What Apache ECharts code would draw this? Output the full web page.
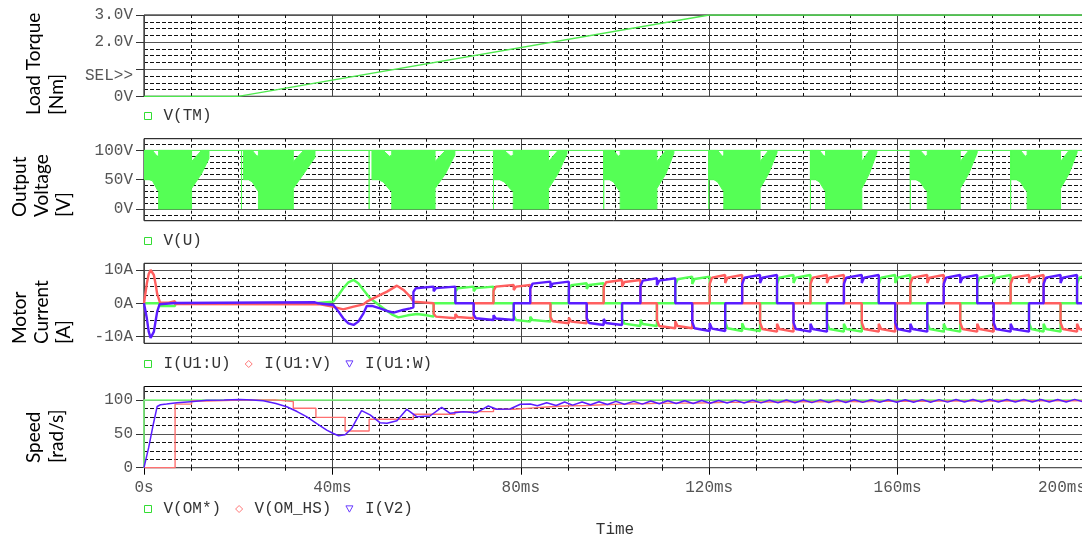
<!DOCTYPE html>
<html>
<head>
<meta charset="utf-8">
<script src="https://cdn.jsdelivr.net/npm/echarts@6/dist/echarts.min.js"></script>
<style>
  html, body { margin: 0; padding: 0; background: #fff; }
  #chart { width: 1082px; height: 539px; }
</style>
</head>
<body>
<div id="chart"></div>
<script>
// ---- time axis (ms) ----
const TIME_TICKS = [0, 40, 80, 120, 160, 200];
const TIME_LABELS = ['0s', '40ms', '80ms', '120ms', '160ms', '200ms'];
const TIME_MINOR = [10, 20, 30, 50, 60, 70, 90, 100, 110, 130, 140, 150, 170, 180, 190];

// ---- y tick values / labels per panel ----
const TORQUE_TICKS = [0, 1, 2, 3];
const TORQUE_LABEL_VALUES = [0, 2, 3];
const TORQUE_LABELS = ['0V', '2.0V', '3.0V'];
const TORQUE_MINOR = [0.25, 0.5, 0.75, 1.25, 1.5, 1.75, 2.25, 2.5, 2.75];

const VOLT_TICKS = [0, 50, 100];
const VOLT_LABELS = ['0V', '50V', '100V'];
const VOLT_MINOR = [-10, 10, 20, 30, 40, 60, 70, 80, 90, 110];

const CURR_TICKS = [-10, 0, 10];
const CURR_LABELS = ['-10A', '0A', '10A'];
const CURR_MINOR = [-7.5, -5, -2.5, 2.5, 5, 7.5];

const SPEED_TICKS = [0, 50, 100];
const SPEED_LABELS = ['0', '50', '100'];
const SPEED_MINOR = [12.5, 25, 37.5, 62.5, 75, 87.5, 112.5];

// ---- V(TM): load torque ramp ----
const V_TM = [[0, 0], [20, 0], [120, 3], [200, 3]];

// ---- V(U): level line with commutation spikes ----
const V_U_LINE = [
  [0, 100], [20.7, 100], [20.7, 0], [20.7, 100], [47.8, 100], [47.8, 0], [47.8, 100],
  [74.2, 100], [74.2, 0], [74.2, 100], [97.6, 100], [97.6, 0], [97.6, 100],
  [119.9, 100], [119.9, 0], [119.9, 100], [141.5, 100], [141.5, 0], [141.5, 100],
  [162.7, 100], [162.7, 0], [162.7, 100], [184.0, 100], [184.0, 0], [184.0, 100], [200, 100]
];

// ---- V(U): PWM switching bands, each row [t, low, high] ----
const V_U_BAND_1 = [[0,50,100],[1.1,50,100],[1.8,48,100],[2.8,33,90],[3.1,30,92],[3.1,0,100],[10.1,0,100],[10.1,35,81],[12.2,60,100],[13.8,86,100]];
const V_U_BAND_2 = [[21.1,50,100],[22.2,50,100],[23.0,46,100],[24.0,33,90],[24.3,30,92],[24.3,0,100],[31.7,0,100],[31.7,35,81],[33.9,60,100],[36.3,88,100]];
const V_U_BAND_3 = [[48.4,50,100],[49.8,50,100],[50.8,46,100],[52.1,33,90],[52.6,30,92],[52.6,0,100],[61.8,0,100],[61.8,35,81],[64.0,60,100],[66.0,92,100]];
const V_U_BAND_4 = [[74.2,50,100],[75.5,50,100],[76.5,46,100],[77.9,33,90],[78.4,30,92],[78.4,0,100],[85.9,0,100],[85.9,35,81],[87.9,60,100],[89.8,94,100]];
const V_U_BAND_5 = [[97.6,50,100],[98.8,50,100],[99.7,46,100],[100.7,33,90],[101.1,30,92],[101.1,0,100],[108.9,0,100],[108.9,35,81],[110.8,60,100],[112.5,95,100]];
const V_U_BAND_6 = [[119.9,50,100],[121.0,50,100],[121.8,46,100],[122.8,33,90],[123.1,30,92],[123.1,0,100],[130.8,0,100],[130.8,35,81],[132.6,60,100],[134.4,96,100]];
const V_U_BAND_7 = [[141.5,50,100],[142.6,50,100],[143.4,46,100],[144.4,33,90],[144.7,30,92],[144.7,0,100],[152.4,0,100],[152.4,35,81],[154.0,60,100],[155.6,96,100]];
const V_U_BAND_8 = [[162.7,50,100],[163.9,50,100],[164.8,46,100],[165.9,33,90],[166.3,30,92],[166.3,0,100],[173.3,0,100],[173.3,35,81],[175.1,60,100],[176.9,96,100]];
const V_U_BAND_9 = [[184.0,50,100],[185.2,50,100],[186.1,46,100],[187.1,33,90],[187.5,30,92],[187.5,0,100],[194.6,0,100],[194.6,35,81],[196.4,60,100],[198.1,96,100]];
const V_U_BANDS = [V_U_BAND_1, V_U_BAND_2, V_U_BAND_3, V_U_BAND_4, V_U_BAND_5, V_U_BAND_6, V_U_BAND_7, V_U_BAND_8, V_U_BAND_9];

// ---- phase currents [t ms, A] ----
const I_U = [
  [0,0],[3.3,0],[3.3,-0.8],[6.6,-0.8],[6.6,0],[36.7,0.1],[40.2,0.5],[41.3,2.5],[42.3,4.5],[43.4,6.3],[44.5,7.0],[45.5,6.0],[46.6,4.0],[48.0,1.5],[49.4,0],[50.8,-1.5],[52.6,-3.3],[54,-4.2],[56,-3.6],[58,-3.2],[60,-3.6],[61.5,-4.0],[61.5,0],
  [66.1,0],[66.1,3.4],[66.6,4.5],[70.0,5.0],[70.0,3.6],[70.5,4.55],[74.2,5.0],[74.2,0],
  [78.5,0],[78.5,-3.7],[79.0,-5.0],[82.0,-5.5],[82.0,-4.0],[82.5,-5.0],[86.3,-5.5],[86.3,0],
  [90.2,0],[90.2,4.1],[90.7,5.4],[94.0,6.0],[94.0,4.3],[94.5,5.5],[97.6,6.0],[97.6,0],
  [101.5,0],[101.5,-4.6],[102.0,-6.1],[105.4,-6.8],[105.4,-4.9],[105.9,-6.2],[108.9,-6.8],[108.9,0],
  [112.8,0],[112.8,5.4],[113.3,7.2],[116.4,8.0],[116.4,5.8],[116.9,7.3],[120.1,8.0],[120.1,0],
  [123.4,0],[123.4,-5.6],[123.9,-7.5],[127.0,-8.3],[127.0,-6.0],[127.5,-7.6],[130.8,-8.3],[130.8,0],
  [134.4,0],[134.4,5.8],[134.9,7.7],[137.9,8.5],[137.9,6.1],[138.4,7.7],[141.5,8.5],[141.5,0],
  [145.0,0],[145.0,-5.8],[145.5,-7.7],[148.6,-8.5],[148.6,-6.1],[149.1,-7.7],[152.4,-8.5],[152.4,0],
  [156.0,0],[156.0,5.8],[156.5,7.7],[159.5,8.5],[159.5,6.1],[160.0,7.7],[162.7,8.5],[162.7,0],
  [166.3,0],[166.3,-5.8],[166.8,-7.7],[169.8,-8.5],[169.8,-6.1],[170.3,-7.7],[173.3,-8.5],[173.3,0],
  [176.9,0],[176.9,5.8],[177.4,7.7],[180.4,8.5],[180.4,6.1],[180.9,7.7],[184.0,8.5],[184.0,0],
  [187.9,0],[187.9,-5.8],[188.4,-7.7],[191.0,-8.5],[191.0,-6.1],[191.5,-7.7],[194.6,-8.5],[194.6,0],
  [198.1,0],[198.1,5.8],[198.6,7.7],[200,8.3]
];
const I_V = [
  [0,0],[0.6,5.9],[1.0,8.8],[1.4,10.0],[1.8,9.8],[2.1,8.5],[2.5,5.5],[2.8,2.8],[3.4,0.2],[5.2,0.2],[5.2,0.6],[6.6,0.6],[6.6,-0.2],[37.4,-0.3],[40.0,-1.0],[42.3,-1.8],[44.5,-1.0],[46.6,-0.3],[47.3,0.5],[49.4,2.0],[51.6,3.5],[53.7,5.3],[55.1,4.0],[56.5,2.0],[57.2,0.5],[57.2,0],
  [61.5,0],[61.5,-3.1],[62.0,-4.0],[66.1,-4.5],[66.1,-3.2],[66.6,-4.1],[70.0,-4.5],[70.0,0],
  [74.2,0],[74.2,3.7],[74.7,5.0],[78.5,5.5],[78.5,4.0],[79.0,5.0],[82.0,5.5],[82.0,0],
  [86.3,0],[86.3,-4.1],[86.8,-5.4],[90.2,-6.0],[90.2,-4.3],[90.7,-5.5],[94.0,-6.0],[94.0,0],
  [97.6,0],[97.6,4.8],[98.1,6.3],[101.5,7.0],[101.5,5.0],[102.0,6.4],[105.4,7.0],[105.4,0],
  [108.9,0],[108.9,-5.1],[109.4,-6.8],[112.8,-7.5],[112.8,-5.4],[113.3,-6.8],[116.4,-7.5],[116.4,0],
  [120.1,0],[120.1,5.8],[120.6,7.7],[123.4,8.5],[123.4,6.1],[123.9,7.7],[127.0,8.5],[127.0,0],
  [130.8,0],[130.8,-5.8],[131.3,-7.7],[134.4,-8.5],[134.4,-6.1],[134.9,-7.7],[137.9,-8.5],[137.9,0],
  [141.5,0],[141.5,5.8],[142.0,7.7],[145.0,8.5],[145.0,6.1],[145.5,7.7],[148.6,8.5],[148.6,0],
  [152.4,0],[152.4,-5.8],[152.9,-7.7],[156.0,-8.5],[156.0,-6.1],[156.5,-7.7],[159.5,-8.5],[159.5,0],
  [162.7,0],[162.7,5.8],[163.2,7.7],[166.3,8.5],[166.3,6.1],[166.8,7.7],[169.8,8.5],[169.8,0],
  [173.3,0],[173.3,-5.8],[173.8,-7.7],[176.9,-8.5],[176.9,-6.1],[177.4,-7.7],[180.4,-8.5],[180.4,0],
  [184.0,0],[184.0,5.8],[184.5,7.7],[187.9,8.5],[187.9,6.1],[188.4,7.7],[191.0,8.5],[191.0,0],
  [194.6,0],[194.6,-5.8],[195.1,-7.7],[198.1,-8.5],[198.1,-6.1],[198.6,-7.7],[200,-8.3]
];
const I_W = [
  [0,0],[0.6,-4.5],[1.0,-8.5],[1.4,-10.4],[1.8,-9.8],[2.1,-8.5],[2.5,-5.0],[2.8,-2.5],[3.3,-0.3],[3.6,0],[6.6,0.1],[36.3,0.3],[37.0,0],[40.2,-0.5],[41.3,-2.5],[42.3,-4.5],[43.4,-6.0],[44.5,-6.5],[45.5,-5.5],[46.6,-3.0],[47.3,-0.8],[48.4,-0.8],[50.1,-1.5],[51.6,-2.3],[53.0,-2.8],[55.0,-2.0],[56.5,-1.5],[57.2,-1.2],[57.2,0],
  [57.2,3.4],[57.7,4.5],[61.5,5.0],[61.5,3.6],[62.0,4.55],[66.1,5.0],[66.1,0],
  [70.0,0],[70.0,-3.4],[70.5,-4.5],[74.2,-5.0],[74.2,-3.6],[74.7,-4.55],[78.5,-5.0],[78.5,0],
  [82.0,0],[82.0,4.4],[82.5,5.9],[86.3,6.5],[86.3,4.7],[86.8,5.9],[90.2,6.5],[90.2,0],
  [94.0,0],[94.0,-4.4],[94.5,-5.9],[97.6,-6.5],[97.6,-4.7],[98.1,-5.9],[101.5,-6.5],[101.5,0],
  [105.4,0],[105.4,5.1],[105.9,6.8],[108.9,7.5],[108.9,5.4],[109.4,6.8],[112.8,7.5],[112.8,0],
  [116.4,0],[116.4,-5.6],[116.9,-7.5],[120.1,-8.3],[120.1,-6.0],[120.6,-7.6],[123.4,-8.3],[123.4,0],
  [127.0,0],[127.0,5.8],[127.5,7.7],[130.8,8.5],[130.8,6.1],[131.3,7.7],[134.4,8.5],[134.4,0],
  [137.9,0],[137.9,-5.8],[138.4,-7.7],[141.5,-8.5],[141.5,-6.1],[142.0,-7.7],[145.0,-8.5],[145.0,0],
  [148.6,0],[148.6,5.8],[149.1,7.7],[152.4,8.5],[152.4,6.1],[152.9,7.7],[156.0,8.5],[156.0,0],
  [159.5,0],[159.5,-5.8],[160.0,-7.7],[162.7,-8.5],[162.7,-6.1],[163.2,-7.7],[166.3,-8.5],[166.3,0],
  [169.8,0],[169.8,5.8],[170.3,7.7],[173.3,8.5],[173.3,6.1],[173.8,7.7],[176.9,8.5],[176.9,0],
  [180.4,0],[180.4,-5.8],[180.9,-7.7],[184.0,-8.5],[184.0,-6.1],[184.5,-7.7],[187.9,-8.5],[187.9,0],
  [191.0,0],[191.0,5.8],[191.5,7.7],[194.6,8.5],[194.6,6.1],[195.1,7.7],[198.1,8.5],[198.1,0],
  [200,0]
];

// ---- speed [t ms, rad/s] ----
const V_OM_REF = [[0, 0], [0, 100], [200, 100]];
// sampled (held) speed estimate, value holds from t until the next entry
const V_OM_HS = [
  [0,0],[6.6,94],[10.1,98.6],[13.3,99.8],[20.5,100.2],[27.8,97.7],[31.7,87.8],[36.5,74.4],[42.7,54.2],[47.8,71.5],
  [57.2,78.9],[66,82.8],[74.2,86.3],[78.5,88],[82,90],[86.3,91.5],[90.2,92],[94,93],[97.6,94],[101.5,94.5],
  [105.4,95],[108.9,95.5],[112.8,95.5],[116.4,96],[120.1,96.5],[123.4,96.5],[127,97],[130.8,97],[134.4,97.5],
  [137.9,97.5],[141.5,97.5],[145,98],[148.6,97.5],[152.4,98],[156,98],[159.5,98.5],[162.7,98],[166.3,98.5],
  [169.8,98.5],[173.3,98.5],[176.9,99],[180.4,98.5],[184,99],[187.9,99],[191,99],[194.6,99],[198.1,99.5],[200,99.5]
];
const I_V2 = [
  [0,0],[1.0,30],[2.0,65],[2.8,90.5],[3.5,93],[4.8,94],[7,96],[9.9,97.6],[13.3,99.5],[17,100],[20.4,100.8],[23,100.2],
  [25.3,99],[28,95],[30.3,90],[32.5,83],[34.5,75.4],[36.7,65],[38.8,55.6],[40.2,50.5],[41.3,47.2],[42.7,48.7],[44.1,58],
  [45.2,72],[46.2,84.3],[48,78],[50.1,66.5],[51.6,65.6],[53.7,69.4],[55.8,86.3],[57.9,75.4],[60.7,76.4],[63.2,89.3],
  [65,80.4],[67.8,82.8],[70.6,81.3],[73.1,91.2],[74.9,86.3],[77.7,86.8],[79.9,93.8],[82,94],[83.5,91.5],[85.5,96],
  [87.5,92],[89.3,97],[91,92.5],[93,97],[94.8,93],[96.6,97.5],[98.4,93.5],[100.2,98],[102,93.8],[104,98],[105.8,94],
  [107.6,98.5],[109.4,94.5],[111.2,99],[113,94.8],[114.8,99],[116.6,95],[118.4,99.2],[120.2,95.2],[122,99.4],[123.8,95.5],
  [125.6,99.5],[127.4,95.5],[129.2,99.6],[131,95.8],[132.8,99.8],[134.6,96],[136.4,100],[138.2,96],[140,100],[141.8,96.2],
  [143.6,100.2],[145.4,96.3],[147.2,100.2],[149,96.4],[150.8,100.4],[152.6,96.5],[154.4,100.4],[156.2,96.6],[158,100.5],
  [159.8,96.7],[161.6,100.5],[163.4,96.8],[165.2,100.6],[167,96.8],[168.8,100.6],[170.6,96.9],[172.4,100.7],[174.2,97],
  [176,100.7],[177.8,97],[179.6,100.8],[181.4,97],[183.2,100.8],[185,97.1],[186.8,100.8],[188.6,97.1],[190.4,100.9],
  [192.2,97.2],[194,100.9],[195.8,97.2],[197.6,101],[199.4,97.2],[200,98]
];

// ---- styling ----
const MONO = '"Liberation Mono", "Courier New", monospace';
const TITLE_FONT = 'Lato, "Open Sans", sans-serif';
const GREEN = '#55ff55';
const RED = '#ff5f5f';
const BLUE = '#5a1cff';

const GRID_LEFT = 144;
const GRID_WIDTH = 942;   // time axis runs a little past the right edge of the page

const PANELS = [
  { top: 15,    height: 81.3, min: 0,   max: 3,   ticks: TORQUE_TICKS, labelValues: TORQUE_LABEL_VALUES, labels: TORQUE_LABELS, minor: TORQUE_MINOR },
  { top: 138.7, height: 82,   min: -20, max: 120, ticks: VOLT_TICKS,   labelValues: VOLT_TICKS,   labels: VOLT_LABELS,   minor: VOLT_MINOR },
  { top: 263.3, height: 80,   min: -12, max: 12,  ticks: CURR_TICKS,   labelValues: CURR_TICKS,   labels: CURR_LABELS,   minor: CURR_MINOR },
  { top: 386.5, height: 81.2, min: 0,   max: 120, ticks: SPEED_TICKS,  labelValues: SPEED_TICKS,  labels: SPEED_LABELS,  minor: SPEED_MINOR }
];

function labelFor(values, labels) {
  return function (v) {
    for (let k = 0; k < values.length; k++) {
      if (Math.abs(values[k] - v) < 1e-9) return labels[k];
    }
    return '';
  };
}

const grids = [], xAxes = [], yAxes = [];
PANELS.forEach(function (p, i) {
  const isBottom = i === PANELS.length - 1;
  grids.push({
    left: GRID_LEFT, width: GRID_WIDTH, top: p.top, height: p.height,
    show: true, borderColor: '#000', borderWidth: 1, backgroundColor: 'transparent',
    containLabel: false, outerBoundsMode: 'none'
  });
  // minor time grid (dashed verticals)
  xAxes.push({
    type: 'value', gridIndex: i, position: 'bottom', min: 0, max: 200,
    axisLine: { show: false, onZero: false }, axisLabel: { show: false },
    axisTick: { show: isBottom, customValues: TIME_MINOR, length: 3, lineStyle: { color: '#000' } },
    splitLine: { show: true, lineStyle: { color: '#111', width: 1, type: [3, 3] } }
  });
  // major time grid + labels
  xAxes.push({
    type: 'value', gridIndex: i, position: 'bottom', min: 0, max: 200,
    axisLine: { show: false, onZero: false },
    axisTick: { show: isBottom, customValues: TIME_TICKS, length: 7, lineStyle: { color: '#000' } },
    axisLabel: {
      show: isBottom, customValues: TIME_TICKS, formatter: labelFor(TIME_TICKS, TIME_LABELS),
      margin: 12, color: '#555', fontFamily: MONO, fontSize: 16, alignMaxLabel: 'right'
    },
    splitLine: { show: true, lineStyle: { color: '#444', width: 1 } }
  });
  // minor value grid (dashed horizontals)
  yAxes.push({
    type: 'value', gridIndex: i, position: 'left', min: p.min, max: p.max,
    axisLine: { show: false, onZero: false }, axisLabel: { show: false },
    axisTick: { show: false, customValues: p.minor },
    splitLine: { show: true, lineStyle: { color: '#111', width: 1, type: [4, 2] } }
  });
  // major value grid + labels
  yAxes.push({
    type: 'value', gridIndex: i, position: 'left', min: p.min, max: p.max,
    axisLine: { show: false, onZero: false },
    axisTick: { show: true, customValues: p.ticks, length: 8, lineStyle: { color: '#333' } },
    axisLabel: {
      show: true, customValues: p.labelValues, formatter: labelFor(p.labelValues, p.labels),
      margin: 11, color: '#555', fontFamily: MONO, fontSize: 16
    },
    splitLine: { show: true, lineStyle: { color: '#555', width: 1 } }
  });
});

function lineSeries(name, panel, data, color, width, extra) {
  return Object.assign({
    type: 'line', name: name,
    xAxisIndex: panel * 2 + 1, yAxisIndex: panel * 2 + 1,
    data: data, showSymbol: false, symbol: 'none', clip: true,
    color: color, lineStyle: { color: color, width: width },
    emphasis: { disabled: true }, silent: true
  }, extra || {});
}

const series = [
  lineSeries('V(TM)', 0, V_TM, '#4ee84e', 1.3),
  {
    type: 'custom', name: 'V(U)', xAxisIndex: 3, yAxisIndex: 3, clip: true, silent: true,
    color: GREEN,
    data: V_U_BANDS.map(function (b, k) { return [b[0][0], k]; }),
    encode: { x: 0 },
    renderItem: function (params, api) {
      const band = V_U_BANDS[params.dataIndex];
      const upper = band.map(function (r) { return api.coord([r[0], r[2]]); });
      const lower = band.slice().reverse().map(function (r) { return api.coord([r[0], r[1]]); });
      return { type: 'polygon', shape: { points: upper.concat(lower) }, style: { fill: GREEN, stroke: GREEN, lineWidth: 1 } };
    }
  },
  lineSeries('V(U)', 1, V_U_LINE, GREEN, 1),
  lineSeries('I(U1:U)', 2, I_U, GREEN, 2.4),
  lineSeries('I(U1:V)', 2, I_V, RED, 2.4),
  lineSeries('I(U1:W)', 2, I_W, BLUE, 2.4),
  lineSeries('V(OM*)', 3, V_OM_REF, '#7dff7d', 1.5),
  lineSeries('V(OM_HS)', 3, V_OM_HS, '#ff7070', 1.4, { step: 'end' }),
  lineSeries('I(V2)', 3, I_V2, BLUE, 1.5)
];

const legendText = { fontFamily: MONO, fontSize: 16, color: '#333', padding: [0, 0, 0, 7], lineHeight: 16 };
function legendAt(top, items) {
  return {
    left: GRID_LEFT, top: top, orient: 'horizontal', padding: 0,
    itemWidth: 7, itemHeight: 7, itemGap: 14, selectedMode: false,
    textStyle: legendText,
    data: items
  };
}
const SQUARE = 'rect';
const DIAMOND = 'diamond';
const TRIANGLE = 'path://M0,0L10,0L5,9Z';
function hollow(name, icon, color) {
  return { name: name, icon: icon, itemStyle: { color: 'transparent', borderColor: color, borderWidth: 1 } };
}

const option = {
  animation: false,
  backgroundColor: '#fff',
  grid: grids,
  xAxis: xAxes,
  yAxis: yAxes,
  legend: [
    legendAt(108, [hollow('V(TM)', SQUARE, '#33dd33')]),
    legendAt(233, [hollow('V(U)', SQUARE, '#33dd33')]),
    legendAt(356, [hollow('I(U1:U)', SQUARE, '#33dd33'), hollow('I(U1:V)', DIAMOND, '#ff7777'), hollow('I(U1:W)', TRIANGLE, '#6a3cff')]),
    legendAt(501, [hollow('V(OM*)', SQUARE, '#33dd33'), hollow('V(OM_HS)', DIAMOND, '#ff7777'), hollow('I(V2)', TRIANGLE, '#6a3cff')])
  ],
  graphic: [
    { type: 'text', x: 45.5, y: 115, rotation: Math.PI / 2, silent: true,
      style: { text: 'Load Torque\n[Nm]', font: '19px ' + TITLE_FONT, fill: '#000', align: 'left', verticalAlign: 'middle', lineHeight: 23 } },
    { type: 'text', x: 42, y: 217, rotation: Math.PI / 2, silent: true,
      style: { text: 'Output\nVoltage\n[V]', font: '19px ' + TITLE_FONT, fill: '#000', align: 'left', verticalAlign: 'middle', lineHeight: 22 } },
    { type: 'text', x: 42, y: 344, rotation: Math.PI / 2, silent: true,
      style: { text: 'Motor\nCurrent\n[A]', font: '19px ' + TITLE_FONT, fill: '#000', align: 'left', verticalAlign: 'middle', lineHeight: 22 } },
    { type: 'text', x: 45, y: 463, rotation: Math.PI / 2, silent: true,
      style: { text: 'Speed\n[rad/s]', font: '19px ' + TITLE_FONT, fill: '#000', align: 'left', verticalAlign: 'middle', lineHeight: 23 } },
    { type: 'text', x: 133, y: 76, silent: true,
      style: { text: 'SEL>>', font: '16px ' + MONO, fill: '#555', align: 'right', verticalAlign: 'middle' } },
    { type: 'text', x: 615, y: 530, silent: true,
      style: { text: 'Time', font: '16px ' + MONO, fill: '#333', align: 'center', verticalAlign: 'middle' } }
  ],
  series: series
};

const chart = echarts.init(document.getElementById('chart'), null, { renderer: 'canvas' });
chart.setOption(option);
</script>
</body>
</html>
